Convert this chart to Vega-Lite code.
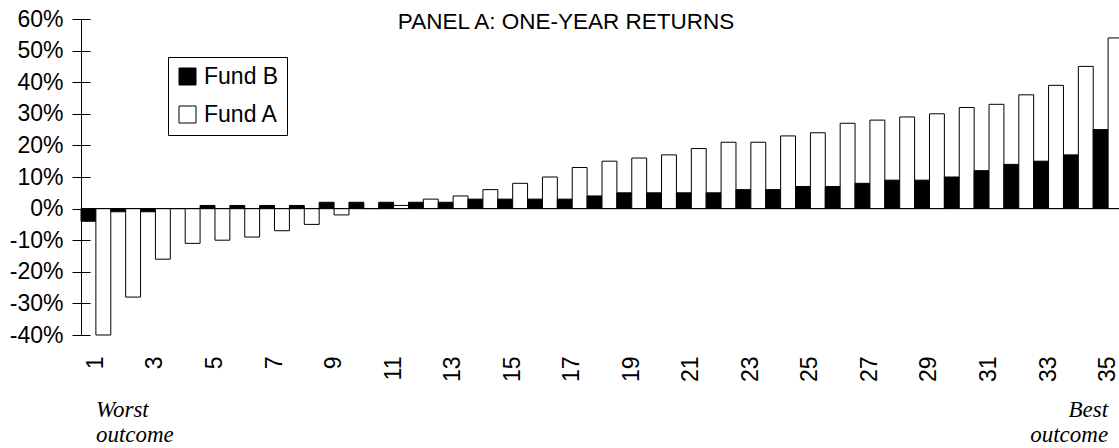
{
  "$schema": "https://vega.github.io/schema/vega-lite/v6.json",
  "width": 1042,
  "height": 316,
  "autosize": {"type": "none"},
  "padding": {"left": 81, "top": 19, "right": 0, "bottom": 113},
  "background": "white",
  "config": {"view": {"stroke": null}, "font": "Liberation Sans"},
  "title": {
    "text": "PANEL A:  ONE-YEAR RETURNS",
    "font": "Liberation Sans",
    "fontSize": 22.5,
    "fontWeight": "normal",
    "color": "black",
    "anchor": "middle",
    "dx": -36,
    "baseline": "alphabetic",
    "offset": 0,
    "dy": 43
  },
  "datasets": {
    "returns": [
      {"outcome": 1, "fund": "Fund B", "ret": -4}, {"outcome": 1, "fund": "Fund A", "ret": -40},
      {"outcome": 2, "fund": "Fund B", "ret": -1}, {"outcome": 2, "fund": "Fund A", "ret": -28},
      {"outcome": 3, "fund": "Fund B", "ret": -1}, {"outcome": 3, "fund": "Fund A", "ret": -16},
      {"outcome": 4, "fund": "Fund B", "ret": 0}, {"outcome": 4, "fund": "Fund A", "ret": -11},
      {"outcome": 5, "fund": "Fund B", "ret": 1}, {"outcome": 5, "fund": "Fund A", "ret": -10},
      {"outcome": 6, "fund": "Fund B", "ret": 1}, {"outcome": 6, "fund": "Fund A", "ret": -9},
      {"outcome": 7, "fund": "Fund B", "ret": 1}, {"outcome": 7, "fund": "Fund A", "ret": -7},
      {"outcome": 8, "fund": "Fund B", "ret": 1}, {"outcome": 8, "fund": "Fund A", "ret": -5},
      {"outcome": 9, "fund": "Fund B", "ret": 2}, {"outcome": 9, "fund": "Fund A", "ret": -2},
      {"outcome": 10, "fund": "Fund B", "ret": 2}, {"outcome": 10, "fund": "Fund A", "ret": 0},
      {"outcome": 11, "fund": "Fund B", "ret": 2}, {"outcome": 11, "fund": "Fund A", "ret": 1},
      {"outcome": 12, "fund": "Fund B", "ret": 2}, {"outcome": 12, "fund": "Fund A", "ret": 3},
      {"outcome": 13, "fund": "Fund B", "ret": 2}, {"outcome": 13, "fund": "Fund A", "ret": 4},
      {"outcome": 14, "fund": "Fund B", "ret": 3}, {"outcome": 14, "fund": "Fund A", "ret": 6},
      {"outcome": 15, "fund": "Fund B", "ret": 3}, {"outcome": 15, "fund": "Fund A", "ret": 8},
      {"outcome": 16, "fund": "Fund B", "ret": 3}, {"outcome": 16, "fund": "Fund A", "ret": 10},
      {"outcome": 17, "fund": "Fund B", "ret": 3}, {"outcome": 17, "fund": "Fund A", "ret": 13},
      {"outcome": 18, "fund": "Fund B", "ret": 4}, {"outcome": 18, "fund": "Fund A", "ret": 15},
      {"outcome": 19, "fund": "Fund B", "ret": 5}, {"outcome": 19, "fund": "Fund A", "ret": 16},
      {"outcome": 20, "fund": "Fund B", "ret": 5}, {"outcome": 20, "fund": "Fund A", "ret": 17},
      {"outcome": 21, "fund": "Fund B", "ret": 5}, {"outcome": 21, "fund": "Fund A", "ret": 19},
      {"outcome": 22, "fund": "Fund B", "ret": 5}, {"outcome": 22, "fund": "Fund A", "ret": 21},
      {"outcome": 23, "fund": "Fund B", "ret": 6}, {"outcome": 23, "fund": "Fund A", "ret": 21},
      {"outcome": 24, "fund": "Fund B", "ret": 6}, {"outcome": 24, "fund": "Fund A", "ret": 23},
      {"outcome": 25, "fund": "Fund B", "ret": 7}, {"outcome": 25, "fund": "Fund A", "ret": 24},
      {"outcome": 26, "fund": "Fund B", "ret": 7}, {"outcome": 26, "fund": "Fund A", "ret": 27},
      {"outcome": 27, "fund": "Fund B", "ret": 8}, {"outcome": 27, "fund": "Fund A", "ret": 28},
      {"outcome": 28, "fund": "Fund B", "ret": 9}, {"outcome": 28, "fund": "Fund A", "ret": 29},
      {"outcome": 29, "fund": "Fund B", "ret": 9}, {"outcome": 29, "fund": "Fund A", "ret": 30},
      {"outcome": 30, "fund": "Fund B", "ret": 10}, {"outcome": 30, "fund": "Fund A", "ret": 32},
      {"outcome": 31, "fund": "Fund B", "ret": 12}, {"outcome": 31, "fund": "Fund A", "ret": 33},
      {"outcome": 32, "fund": "Fund B", "ret": 14}, {"outcome": 32, "fund": "Fund A", "ret": 36},
      {"outcome": 33, "fund": "Fund B", "ret": 15}, {"outcome": 33, "fund": "Fund A", "ret": 39},
      {"outcome": 34, "fund": "Fund B", "ret": 17}, {"outcome": 34, "fund": "Fund A", "ret": 45},
      {"outcome": 35, "fund": "Fund B", "ret": 25}, {"outcome": 35, "fund": "Fund A", "ret": 54}
    ],
    "notes": [
      {"outcome": 1, "note": ["Worst", "outcome"]},
      {"outcome": 35, "note": ["Best", "outcome"]}
    ]
  },
  "layer": [
    {
      "data": {"name": "returns"},
      "mark": {"type": "bar", "stroke": "black", "strokeWidth": 1},
      "encoding": {
        "x": {
          "field": "outcome",
          "type": "ordinal",
          "scale": {"paddingInner": 0, "paddingOuter": 0},
          "axis": {
            "title": null,
            "values": [1, 3, 5, 7, 9, 11, 13, 15, 17, 19, 21, 23, 25, 27, 29, 31, 33, 35],
            "labelAngle": -90,
            "domain": false,
            "ticks": false,
            "tickSize": 0,
            "labelPadding": 21,
            "labelFontSize": 23,
            "labelFont": "Liberation Sans",
            "labelColor": "black",
            "grid": false
          }
        },
        "xOffset": {
          "field": "fund",
          "type": "nominal",
          "sort": ["Fund B", "Fund A"],
          "scale": {"paddingInner": 0, "paddingOuter": 0}
        },
        "y": {
          "field": "ret",
          "type": "quantitative",
          "scale": {"domain": [-40, 60], "nice": false},
          "axis": {
            "title": null,
            "values": [-40, -30, -20, -10, 0, 10, 20, 30, 40, 50, 60],
            "labelExpr": "datum.value + '%'",
            "grid": false,
            "domainColor": "black",
            "tickColor": "black",
            "tickSize": 9,
            "labelPadding": 9,
            "labelFontSize": 23,
            "labelFont": "Liberation Sans",
            "labelColor": "black"
          }
        },
        "fill": {
          "field": "fund",
          "type": "nominal",
          "scale": {"domain": ["Fund B", "Fund A"], "range": ["black", "white"]},
          "legend": {
            "title": null,
            "orient": "none",
            "legendX": 87,
            "legendY": 38,
            "padding": 8,
            "strokeColor": "black",
            "fillColor": "white",
            "symbolType": "square",
            "symbolSize": 289,
            "symbolStrokeColor": "black",
            "symbolStrokeWidth": 1,
            "labelFontSize": 23,
            "labelFont": "Liberation Sans",
            "labelColor": "black",
            "rowPadding": 14,
            "labelOffset": 5
          }
        }
      }
    },
    {
      "data": {"values": [{"baseline": 0}]},
      "mark": {"type": "rule", "color": "black", "strokeWidth": 1},
      "encoding": {
        "y": {
          "field": "baseline",
          "type": "quantitative",
          "axis": {
            "title": null,
            "orient": "left",
            "values": [-40, -30, -20, -10, 0, 10, 20, 30, 40, 50, 60],
            "labels": false,
            "domain": false,
            "ticks": true,
            "tickSize": -9,
            "tickColor": "black",
            "grid": false
          }
        }
      }
    },
    {
      "data": {"name": "notes"},
      "mark": {
        "type": "text",
        "font": "Liberation Serif",
        "fontStyle": "italic",
        "fontSize": 23,
        "lineHeight": 25,
        "baseline": "alphabetic",
        "dy": 82,
        "color": "black",
        "align": {"expr": "datum.outcome == 1 ? 'left' : 'right'"}
      },
      "encoding": {
        "x": {"field": "outcome", "type": "ordinal"},
        "y": {"datum": -40, "type": "quantitative", "axis": null},
        "text": {"field": "note"}
      }
    }
  ],
  "resolve": {"axis": {"y": "independent"}}
}
